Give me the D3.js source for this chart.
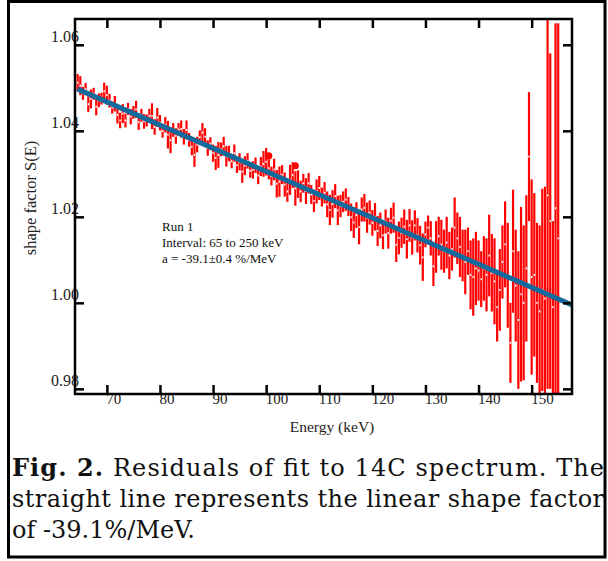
<!DOCTYPE html>
<html lang="en">

<head>
  <meta charset="utf-8">
  <title>Residuals of fit to 14C spectrum</title>
  <script src="https://d3js.org/d3.v7.min.js"></script>

  <style>
    body {
      margin: 0;
      background: #fff;
    }

    svg {
      display: block;
    }

    .ylabel text {
      font: 16px "Liberation Serif", serif;
      fill: #222;
    }

    .xlabel text {
      font: 15px "Liberation Serif", serif;
      fill: #222;
    }

    .title {
      font: 15.5px "Liberation Serif", serif;
      fill: #222;
    }

    .note {
      font: 13px "Liberation Serif", serif;
      fill: #111;
    }

    .caption {
      font: 24px "DejaVu Serif", serif;
      fill: #111;
    }
  </style>
</head>

<body>
  <svg width="608" height="561"></svg>

  <script>
    // energy bins (keV)
    var energy = [
      64.5, 65.0, 65.5, 66.0, 66.5, 67.0, 67.5, 68.0, 68.5, 69.0,
      69.5, 70.0, 70.5, 71.0, 71.5, 72.0, 72.5, 73.0, 73.5, 74.0,
      74.5, 75.0, 75.5, 76.0, 76.5, 77.0, 77.5, 78.0, 78.5, 79.0,
      79.5, 80.0, 80.5, 81.0, 81.5, 82.0, 82.5, 83.0, 83.5, 84.0,
      84.5, 85.0, 85.5, 86.0, 86.5, 87.0, 87.5, 88.0, 88.5, 89.0,
      89.5, 90.0, 90.5, 91.0, 91.5, 92.0, 92.5, 93.0, 93.5, 94.0,
      94.5, 95.0, 95.5, 96.0, 96.5, 97.0, 97.5, 98.0, 98.5, 99.0,
      99.5, 100.0, 100.5, 101.0, 101.5, 102.0, 102.5, 103.0, 103.5, 104.0,
      104.5, 105.0, 105.5, 106.0, 106.5, 107.0, 107.5, 108.0, 108.5, 109.0,
      109.5, 110.0, 110.5, 111.0, 111.5, 112.0, 112.5, 113.0, 113.5, 114.0,
      114.5, 115.0, 115.5, 116.0, 116.5, 117.0, 117.5, 118.0, 118.5, 119.0,
      119.5, 120.0, 120.5, 121.0, 121.5, 122.0, 122.5, 123.0, 123.5, 124.0,
      124.5, 125.0, 125.5, 126.0, 126.5, 127.0, 127.5, 128.0, 128.5, 129.0,
      129.5, 130.0, 130.5, 131.0, 131.5, 132.0, 132.5, 133.0, 133.5, 134.0,
      134.5, 135.0, 135.5, 136.0, 136.5, 137.0, 137.5, 138.0, 138.5, 139.0,
      139.5, 140.0, 140.5, 141.0, 141.5, 142.0, 142.5, 143.0, 143.5, 144.0,
      144.5, 145.0, 145.5, 146.0, 146.5, 147.0, 147.5, 148.0, 148.5, 149.0,
      149.5, 150.0, 150.5, 151.0, 151.5, 152.0, 152.5, 153.0, 153.5, 154.0,
      154.5, 155.0
    ];

    // measured shape factor S(E)
    var shape = [
      1.0512, 1.0505, 1.0487, 1.0497, 1.0462, 1.0474, 1.0486, 1.0456, 1.0471, 1.0475,
      1.0492, 1.0483, 1.0470, 1.0454, 1.0463, 1.0437, 1.0424, 1.0440, 1.0424, 1.0451,
      1.0433, 1.0443, 1.0450, 1.0420, 1.0436, 1.0422, 1.0424, 1.0435, 1.0434, 1.0409,
      1.0431, 1.0419, 1.0399, 1.0414, 1.0391, 1.0378, 1.0402, 1.0388, 1.0403, 1.0404,
      1.0386, 1.0402, 1.0379, 1.0363, 1.0344, 1.0368, 1.0385, 1.0396, 1.0386, 1.0360,
      1.0370, 1.0348, 1.0337, 1.0344, 1.0357, 1.0364, 1.0341, 1.0347, 1.0329, 1.0348,
      1.0320, 1.0328, 1.0305, 1.0319, 1.0330, 1.0307, 1.0309, 1.0320, 1.0296, 1.0317,
      1.0323, 1.0328, 1.0313, 1.0295, 1.0310, 1.0277, 1.0282, 1.0298, 1.0275, 1.0259,
      1.0286, 1.0297, 1.0266, 1.0276, 1.0259, 1.0278, 1.0260, 1.0278, 1.0252, 1.0237,
      1.0259, 1.0267, 1.0246, 1.0256, 1.0229, 1.0216, 1.0230, 1.0248, 1.0215, 1.0225,
      1.0235, 1.0240, 1.0224, 1.0199, 1.0187, 1.0204, 1.0176, 1.0217, 1.0221, 1.0198,
      1.0210, 1.0186, 1.0200, 1.0167, 1.0180, 1.0157, 1.0189, 1.0162, 1.0191, 1.0198,
      1.0135, 1.0151, 1.0163, 1.0177, 1.0148, 1.0180, 1.0152, 1.0180, 1.0157, 1.0134,
      1.0106, 1.0159, 1.0175, 1.0150, 1.0085, 1.0130, 1.0155, 1.0135, 1.0120, 1.0140,
      1.0110, 1.0125, 1.0175, 1.0150, 1.0130, 1.0110, 1.0095, 1.0120, 1.0065, 1.0060,
      1.0080, 1.0075, 1.0055, 1.0080, 1.0065, 1.0110, 1.0070, 1.0050, 0.9990, 1.0030,
      1.0095, 1.0136, 1.0064, 0.9907, 1.0120, 1.0040, 0.9960, 1.0020, 1.0000, 1.0080,
      1.0340, 1.0060, 1.0065, 1.0000, 0.9980, 1.0030, 1.0010, 1.0250, 1.0190, 0.9990,
      1.0220, 1.0150
    ];

    // error half-widths
    var err = [
      .0020, .0022, .0015, .0014, .0018, .0022, .0014, .0020, .0016, .0014,
      .0020, .0022, .0016, .0014, .0018, .0020, .0018, .0022, .0016, .0014,
      .0018, .0015, .0020, .0018, .0015, .0017, .0014, .0016, .0030, .0018,
      .0022, .0018, .0015, .0018, .0032, .0030, .0016, .0018, .0015, .0020,
      .0018, .0022, .0016, .0020, .0028, .0018, .0016, .0022, .0020, .0018,
      .0015, .0020, .0028, .0030, .0016, .0022, .0024, .0018, .0016, .0020,
      .0018, .0020, .0026, .0022, .0018, .0016, .0020, .0018, .0020, .0022,
      .0030, .0032, .0026, .0022, .0025, .0032, .0035, .0022, .0028, .0024,
      .0035, .0030, .0040, .0032, .0025, .0022, .0030, .0024, .0022, .0026,
      .0028, .0028, .0022, .0025, .0030, .0035, .0032, .0028, .0034, .0026,
      .0024, .0026, .0022, .0032, .0036, .0030, .0040, .0028, .0032, .0035,
      .0028, .0030, .0032, .0035, .0030, .0032, .0028, .0036, .0030, .0035,
      .0040, .0038, .0035, .0040, .0045, .0038, .0040, .0035, .0040, .0045,
      .0055, .0030, .0028, .0040, .0046, .0060, .0045, .0058, .0050, .0060,
      .0055, .0050, .0070, .0060, .0070, .0060, .0075, .0055, .0080, .0090,
      .0085, .0070, .0065, .0075, .0085, .0095, .0090, .0100, .0080, .0095,
      .0085, .0100, .0122, .0093, .0143, .0130, .0160, .0203, .0180, .0170,
      .0150, .0227, .0190, .0186, .0200, .0235, .0260, .0450, .0390, .0200,
      .0430, .0500
    ];

    // two points drawn as filled circles
    var dotE = [100.5, 105.5];
    var dotS = [1.0342, 1.0319];

    // linear shape factor fit
    var fitE = [64.5, 157.6];
    var fitS = [1.0497, 0.9995];

    var xTicks = [70, 80, 90, 100, 110, 120, 130, 140, 150];
    var yTicks = [0.98, 1.00, 1.02, 1.04, 1.06];

    var noteLines = ["Run 1", "Interval: 65 to 250 keV", "a = -39.1\u00b10.4 %/MeV"];

    var svg = d3.select("svg");

    // plot box edges
    var pLeft = 75, pRight = 572, pTop = 19, pBottom = 394;

    var x = d3.scaleLinear().domain([64, 157.6]).range([pLeft, pRight]);
    var y = d3.scaleLinear().domain([0.9788, 1.0660]).range([pBottom, pTop]);

    // outer frame
    svg.append("rect")
      .attr("x", 8.5).attr("y", 1.5)
      .attr("width", 596.5).attr("height", 555.5)
      .attr("fill", "none")
      .attr("stroke", "#000")
      .attr("stroke-width", 3);

    svg.append("clipPath").attr("id", "plot")
      .append("rect")
      .attr("x", pLeft).attr("y", pTop)
      .attr("width", pRight - pLeft).attr("height", pBottom - pTop);

    var data = energy.map((e, i) => ({ e: e, s: shape[i], d: err[i] }));

    var marks = svg.append("g").attr("clip-path", "url(#plot)");

    // error bars
    marks.selectAll(".bar")
      .data(data)
      .enter().append("rect")
      .attr("class", "bar")
      .attr("x", d => x(d.e) - 1.1)
      .attr("width", 2.2)
      .attr("y", d => y(d.s + d.d))
      .attr("height", d => y(d.s - d.d) - y(d.s + d.d))
      .attr("fill", "#ff0000");

    // white point markers
    marks.selectAll(".pt")
      .data(data)
      .enter().append("rect")
      .attr("class", "pt")
      .attr("x", d => x(d.e) - 0.7)
      .attr("width", 1.4)
      .attr("y", d => y(d.s) - 1)
      .attr("height", 2)
      .attr("fill", "#fff");

    marks.selectAll(".dot")
      .data(dotE)
      .enter().append("circle")
      .attr("cx", d => x(d))
      .attr("cy", (d, i) => y(dotS[i]))
      .attr("r", 3.5)
      .attr("fill", "#ff0000");

    // fit line
    var line = d3.line()
      .x(d => x(d[0]))
      .y(d => y(d[1]));

    marks.append("path")
      .datum(fitE.map((e, i) => [e, fitS[i]]))
      .attr("d", line)
      .attr("fill", "none")
      .attr("stroke", "#12699b")
      .attr("stroke-width", 5);

    // axes, ticks point inward
    var gx = svg.append("g")
      .attr("class", "xlabel")
      .attr("transform", "translate(0," + pBottom + ")")
      .call(d3.axisBottom(x).tickValues(xTicks).tickSize(-9).tickSizeOuter(0));
    gx.selectAll("text")
      .attr("text-anchor", "start")
      .attr("x", -1)
      .attr("y", 10)
      .attr("dy", null);

    var gy = svg.append("g")
      .attr("class", "ylabel")
      .attr("transform", "translate(" + pLeft + ",0)")
      .call(d3.axisLeft(y).tickValues(yTicks).tickSize(-9).tickSizeOuter(0).tickFormat(d3.format(".2f")));
    gy.selectAll("text")
      .attr("text-anchor", "end")
      .attr("x", 4)
      .attr("y", -3)
      .attr("dy", null);

    svg.append("g")
      .attr("transform", "translate(0," + pTop + ")")
      .call(d3.axisTop(x).tickValues(xTicks).tickSize(-9).tickSizeOuter(0).tickFormat(""));

    svg.append("g")
      .attr("transform", "translate(" + pRight + ",0)")
      .call(d3.axisRight(y).tickValues(yTicks).tickSize(-9).tickSizeOuter(0).tickFormat(""));

    svg.selectAll(".domain").remove();
    svg.selectAll(".tick line")
      .attr("stroke", "#000")
      .attr("stroke-width", 2.5);

    svg.append("rect")
      .attr("x", pLeft).attr("y", pTop)
      .attr("width", pRight - pLeft).attr("height", pBottom - pTop)
      .attr("fill", "none")
      .attr("stroke", "#000")
      .attr("stroke-width", 2.5);

    // titles
    svg.append("text")
      .attr("class", "title")
      .attr("x", 332).attr("y", 432)
      .attr("text-anchor", "middle")
      .text("Energy (keV)");

    svg.append("text")
      .attr("class", "title")
      .attr("transform", "translate(36,198) rotate(-90)")
      .attr("text-anchor", "middle")
      .style("font-size", "16.5px")
      .text("shape factor S(E)");

    svg.selectAll(".note")
      .data(noteLines)
      .enter().append("text")
      .attr("class", "note")
      .attr("x", 162)
      .attr("y", (d, i) => 231 + i * 16)
      .text(d => d);

    // caption, first two lines justified
    var cap1 = svg.append("text")
      .attr("class", "caption")
      .attr("x", 12).attr("y", 476)
      .attr("textLength", 592)
      .attr("lengthAdjust", "spacing");
    cap1.append("tspan").style("font-weight", "bold").text("Fig. 2.");
    cap1.append("tspan").text(" Residuals of fit  to 14C spectrum.  The");

    svg.append("text")
      .attr("class", "caption")
      .attr("x", 12).attr("y", 507)
      .attr("textLength", 592)
      .attr("lengthAdjust", "spacing")
      .text("straight line represents the linear shape factor");

    svg.append("text")
      .attr("class", "caption")
      .attr("x", 12).attr("y", 538)
      .text("of -39.1%/MeV.");
  </script>

</body>

</html>
